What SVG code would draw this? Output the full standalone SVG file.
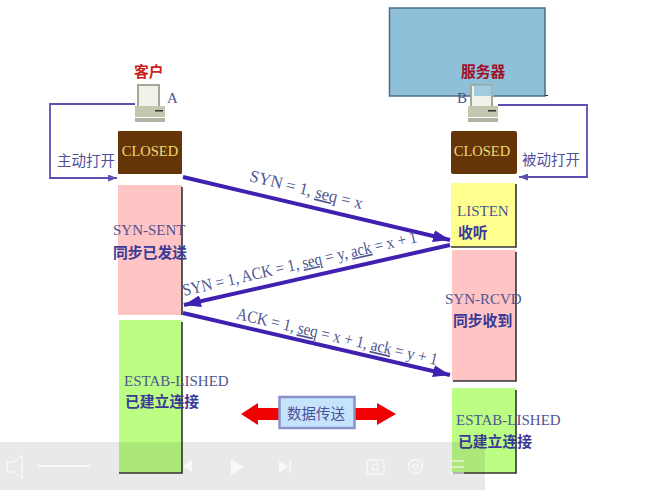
<svg xmlns="http://www.w3.org/2000/svg" width="650" height="490" viewBox="0 0 650 490">
<style>
.lat{font-family:"Liberation Serif","Noto Sans CJK SC",serif;fill:#4f5590;font-size:15px}
.cn{font-family:"Noto Sans CJK SC","Liberation Sans",sans-serif;font-weight:700;fill:#3a3a96;font-size:14.800px}
.cnl{font-family:"Noto Sans CJK SC","Liberation Sans",sans-serif;fill:#50509a;font-size:14.500px}
.red{font-family:"Noto Sans CJK SC","Liberation Sans",sans-serif;font-weight:700;font-size:14.800px}
.closed{font-family:"Liberation Serif",serif;fill:#f0d878;font-size:14.500px;text-anchor:middle}
.seq{font-family:"Liberation Serif","Noto Sans CJK SC",serif;fill:#4f5590;font-size:17px;text-anchor:middle}
.sq{text-decoration:underline wavy #d04040}
.shadow{fill:none;stroke:#333;stroke-width:1.6}
.flow{stroke:#4020b0;stroke-width:4;fill:none}
.loop{stroke:#5a50b0;stroke-width:1.8;fill:none}
.ctl{fill:#fbfbf8;opacity:.8}
.ico{fill:none;stroke:#fbfbf8;stroke-width:1.5;opacity:.75}
</style>
<defs>
<marker id="big" viewBox="0 0 17 12" refX="17" refY="6" markerWidth="17" markerHeight="12" markerUnits="userSpaceOnUse" orient="auto"><path d="M0 0L17 6L0 12Z" fill="#4020b0"/></marker>
<marker id="small" viewBox="0 0 9 7" refX="9" refY="3.500" markerWidth="9" markerHeight="7" markerUnits="userSpaceOnUse" orient="auto"><path d="M0 0L9 3.500L0 7Z" fill="#5a50b0"/></marker>
<g id="pc">
<rect x="3" y="0" width="21" height="22" fill="#f0f2ea" stroke="#a0a896" stroke-width="2"/>
<rect x="0" y="21" width="30" height="11" fill="#c3c7ae"/>
<rect x="20" y="25" width="8" height="1.500" fill="#333"/>
<rect x="0" y="33" width="30" height="4" fill="#b0b4a4"/>
</g>
</defs>
<rect width="650" height="490" fill="#fff"/>

<g id="blue-box"><rect x="389.500" y="8" width="155.500" height="88" fill="#8fc0da" stroke="#4a6b85" stroke-width="1.500"/><path d="M545 95.500H548" stroke="#333" stroke-width="1"/></g>

<g id="client">
<text class="red" x="134" y="77" fill="#d02020">客户</text>
<use href="#pc" x="135" y="85"/>
<text class="lat" x="167" y="103">A</text>
</g>
<g id="server">
<text class="red" x="461" y="77" fill="#a01028">服务器</text>
<use href="#pc" x="468" y="85"/>
<rect x="474" y="85" width="20" height="11" fill="#8fc0da" opacity=".8"/>
<text class="lat" x="457" y="103">B</text>
</g>

<g id="client-closed"><rect x="118" y="131" width="64" height="43" rx="1" fill="#643506"/><text class="closed" x="150" y="156">CLOSED</text></g>
<g id="server-closed"><rect x="451" y="131" width="66" height="43" rx="2" fill="#643506"/><text class="closed" x="482" y="156">CLOSED</text></g>

<g id="syn-sent"><rect x="118" y="185" width="64" height="130" fill="#ffc4c4"/><path class="shadow" d="M182 187V315"/><text class="lat" x="113" y="235">SYN-SENT</text><text class="cn" x="113" y="258">同步已发送</text></g>
<g id="client-estab"><rect x="119" y="320" width="63" height="153" fill="#bcfd84"/><path class="shadow" d="M182 322V473H119"/><text class="lat" x="124" y="386">ESTAB-LISHED</text><text class="cn" x="125" y="407">已建立连接</text></g>
<g id="listen"><rect x="451" y="183" width="65" height="64" fill="#ffff90"/><path class="shadow" d="M516 184V247H451"/><text class="lat" x="457" y="216">LISTEN</text><text class="cn" x="458" y="238">收听</text></g>
<g id="syn-rcvd"><rect x="452" y="250" width="64" height="131" fill="#ffc4c4"/><path class="shadow" d="M516 252V381H453"/><text class="lat" x="445" y="304">SYN-RCVD</text><text class="cn" x="453" y="326">同步收到</text></g>
<g id="server-estab"><rect x="452" y="388" width="64" height="85" fill="#bcfd84"/><path class="shadow" d="M516 390V473H453"/><text class="lat" x="456" y="425">ESTAB-LISHED</text><text class="cn" x="458" y="447">已建立连接</text></g>

<g id="connectors">
<path class="loop" d="M135 104H50V178H117" marker-end="url(#small)"/>
<path class="loop" d="M498 105H587V177H519" marker-end="url(#small)"/>
<path class="flow" d="M183 177L450 240" marker-end="url(#big)"/>
<path class="flow" d="M450 245L184 305" marker-end="url(#big)"/>
<path class="flow" d="M183 313L450 375" marker-end="url(#big)"/>
</g>

<g id="labels">
<text class="cnl" x="57" y="166">主动打开</text>
<text class="cnl" x="522" y="165">被动打开</text>
<text class="seq" textLength="116" lengthAdjust="spacingAndGlyphs" transform="translate(305 195) rotate(14)">SYN = 1, <tspan class="sq">seq</tspan> = x</text>
<text class="seq" textLength="240" lengthAdjust="spacingAndGlyphs" transform="translate(301 269) rotate(-13)">SYN = 1, ACK = 1, <tspan class="sq">seq</tspan> = y, <tspan class="sq">ack</tspan> = x + 1</text>
<text class="seq" textLength="206" lengthAdjust="spacingAndGlyphs" transform="translate(336 342) rotate(13)">ACK = 1, <tspan class="sq">seq</tspan> = x + 1, <tspan class="sq">ack</tspan> = y + 1</text>
</g>

<g id="data-transfer">
<path d="M241 414L258 403V408H377V403L396 414L377 425V420H258V425Z" fill="#f00000"/>
<rect x="279.500" y="397" width="75" height="31" fill="#c5e4fb" stroke="#8c90c8" stroke-width="2.500"/>
<text class="cnl" x="287" y="419">数据传送</text>
</g>

<g id="player-bar">
<rect x="0" y="442" width="485" height="48" fill="#1a2a1a" fill-opacity=".1"/>
<path class="ico" d="M7 462H13L22 456V478L13 472H7Z"/>
<rect x="38" y="465" width="52" height="2" class="ctl"/>
<path class="ctl" d="M192 460V472L183 466Z"/>
<path class="ctl" d="M231 459L244 467L231 475Z"/>
<path class="ctl" d="M279 461L288 467L279 473Z"/><rect class="ctl" x="289" y="461" width="2" height="12"/>
<rect class="ico" x="367" y="460" width="17" height="14" rx="2"/>
<circle class="ico" cx="375.500" cy="467" r="3"/>
<circle class="ico" cx="415.500" cy="466.500" r="7"/>
<circle class="ico" cx="415.500" cy="466.500" r="2.500"/>
<path class="ico" d="M450 461H464M450 467H464M450 473H464"/>
</g>
</svg>
